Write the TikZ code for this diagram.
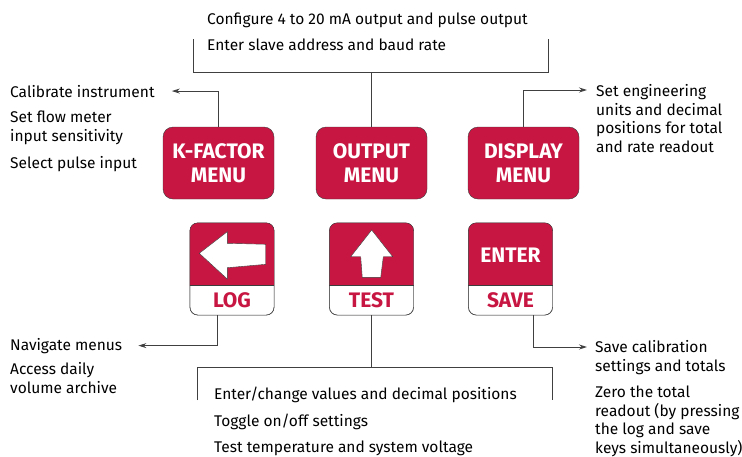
\documentclass[tikz,border=0pt]{standalone}
\usepackage{fontspec}
\setmainfont{Fira Sans}
\usetikzlibrary{positioning, calc, arrows.meta}
\definecolor{keyred}{RGB}{200,22,66}
\definecolor{keyline}{RGB}{60,60,60}
\tikzset{
	menukey/.style={draw=keyline, fill=keyred, rounded corners=10pt, minimum width=111pt, minimum height=72pt, inner sep=0pt, text=white, align=center, font=\fontsize{21}{24}\selectfont\bfseries},
	keybox/.style={draw=keyline, fill=white, rounded corners=8pt, minimum width=84pt, minimum height=92pt, inner sep=0pt},
	keylabel/.style={inner sep=0pt, font=\fontsize{21}{24}\selectfont\bfseries},
	note/.style={anchor=base west, inner sep=0pt, align=left, font=\fontsize{15.5}{18.5}\selectfont},
	conn/.style={draw=black!75, line width=0.9pt},
	tip/.style={conn, -{Stealth[length=8pt, width=5pt]}}
}
\begin{document}
\begin{tikzpicture}[x=1pt, y=-1pt]
	\useasboundingbox (0,0) rectangle (742,456);
	\coordinate (split) at (0,285);
	
	\foreach \nm/\x/\lbl in {kfactor/218.5/K-FACTOR, output/371.5/OUTPUT, display/523.5/DISPLAY}
	\node[menukey] (\nm) at (\x,163) {\lbl\\MENU};
	
	\foreach \nm/\x/\lbl in {log/232/LOG, test/371.5/TEST, save/510.5/SAVE}{
		\node[keybox] (\nm) at (\x,269) {};
		\begin{scope}
			\clip (\nm.north west) rectangle (\nm.east |- split);
			\fill[keyred, rounded corners=8pt] (\nm.north west) rectangle (\nm.south east);
		\end{scope}
		\draw[keyline, rounded corners=8pt] (\nm.north west) rectangle (\nm.south east);
		\draw[keyline] (\nm.west |- split) -- (\nm.east |- split);
		\node[keylabel, text=keyred] (\nm lbl) at (\x,300.5) {\lbl};
	}
	
	\filldraw[fill=white, draw=keyline] (199.3,253.3) -- (227.3,231.7) -- (227.3,243.3) -- (265.7,244.3) -- (265.7,264.3) -- (227.3,267.7) -- (227.3,279) -- cycle;
	\filldraw[fill=white, draw=keyline] (371.7,230) -- (392.7,256.7) -- (383.3,256.7) -- (380.7,277.3) -- (362.3,277.3) -- (360.7,256.7) -- (350.7,256.7) -- cycle;
	\node[keylabel, text=white] (enter) at (510.5,255.5) {ENTER};
	
	\node[note] (config) at (207,24) {Configure 4 to 20 mA output and pulse output};
	\node[note] (slave) at (207,50) {Enter slave address and baud rate};
	\node[note] (calib) at (10,97) {Calibrate instrument};
	\node[note] (flow) at (10,141) {Set flow meter\\input sensitivity};
	\node[note] (pulse) at (10,168) {Select pulse input};
	\node[note] (units) at (596,152) {Set engineering\\units and decimal\\positions for total\\and rate readout};
	\node[note] (navigate) at (10,350) {Navigate menus};
	\node[note] (archive) at (10,393) {Access daily\\volume archive};
	\node[note] (values) at (214,399) {Enter/change values and decimal positions};
	\node[note] (toggle) at (214,426) {Toggle on/off settings};
	\node[note] (temp) at (214,452) {Test temperature and system voltage};
	\node[note] (savecal) at (595,371) {Save calibration\\settings and totals};
	\node[note] (zero) at (595,453) {Zero the total\\readout (by pressing\\the log and save\\keys simultaneously)};
	
	\draw[conn] (193,39) -- (193,72) -- (548,72) -- (548,39);
	\draw[conn] (output.north) -- (output.north |- 0,72);
	\draw[conn] (197,400) -- (197,367) -- (552,367) -- (552,400);
	\draw[conn] (test.south) -- (test.south |- 0,367);
	\draw[tip] (kfactor.north) |- ([xshift=17pt]calib.east);
	\draw[tip] (display.north) |- ([xshift=-9pt, yshift=62pt]units.base west);
	\draw[tip] ([xshift=-15pt]log.south) |- ([xshift=16pt]navigate.east);
	\draw[tip] ([xshift=22.5pt]save.south) |- ([xshift=-8pt, yshift=24pt]savecal.base west);
\end{tikzpicture}
\end{document}
